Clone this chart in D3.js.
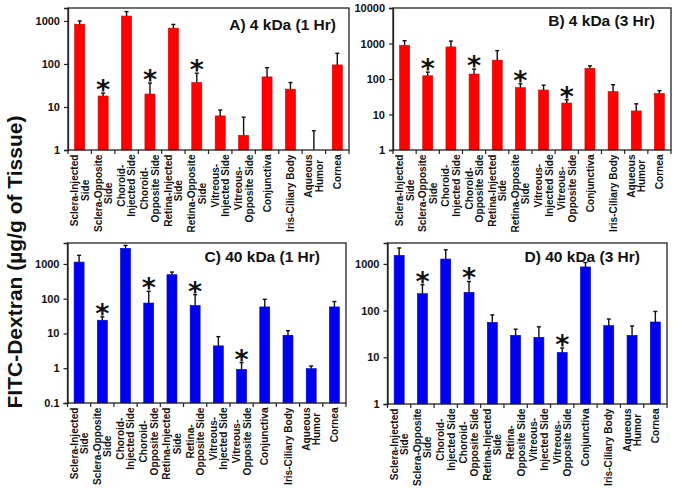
<!DOCTYPE html>
<html><head><meta charset="utf-8">
<script src="https://cdn.jsdelivr.net/npm/d3@7"></script>
<style>
body{margin:0;background:#fff;}
text{font-family:"Liberation Sans",Arial,sans-serif;font-weight:bold;}
</style></head>
<body><svg id="c" width="675" height="489"></svg>
<script>
const categoriesAB = ["Sclera-Injected\nSide","Sclera-Opposite\nSide","Choroid-\nInjected Side","Choroid-\nOpposite Side","Retina-Injected\nSide","Retina-Opposite\nSide","Vitreous-\nInjected Side","Vitreous-\nOpposite Side","Conjunctiva","Iris-Ciliary Body","Aqueous\nHumor","Cornea"];
const categoriesCD = ["Sclera-Injected\nSide","Sclera-Opposite\nSide","Choroid-\nInjected Side","Choroid-\nOpposite Side","Retina-Injected\nSide","Retina-\nOpposite Side","Vitreous-\nInjected Side","Vitreous-\nOpposite Side","Conjunctiva","Iris-Ciliary Body","Aqueous\nHumor","Cornea"];

const valuesA = [840, 18, 1300, 20, 680, 37, 6.2, 2.2, 50, 26, 0.9, 95];
const errorsA = [160, 3, 350, 16, 150, 24, 2.3, 3.6, 32, 11, 1.9, 82];
const starsA = [1, 3, 5];

const valuesB = [890, 123, 800, 138, 340, 57, 49, 21, 200, 44, 12.6, 39];
const errorsB = [310, 33, 370, 52, 290, 16, 18, 5, 35, 25, 7.4, 8];
const starsB = [1, 3, 5, 7];

const valuesC = [1130, 24, 2800, 75, 490, 64, 4.4, 0.93, 58, 8.9, 0.97, 58];
const errorsC = [640, 6, 600, 88, 95, 67, 3.7, 0.52, 38, 3.1, 0.19, 25];
const starsC = [1, 3, 5, 7];

const valuesD = [1520, 230, 1270, 245, 56, 29.5, 26.7, 12.7, 860, 47.6, 29.5, 57];
const errorsD = [670, 127, 730, 175, 25, 10.5, 18.3, 3.1, 210, 18.4, 17.5, 39];
const starsD = [1, 3, 7];

const ticksA = [1, 10, 100, 1000];
const ticksB = [1, 10, 100, 1000, 10000];
const ticksC = [0.1, 1, 10, 100, 1000];
const ticksD = [1, 10, 100, 1000];

const titles = ["A) 4 kDa (1 Hr)", "B) 4 kDa (3 Hr)", "C) 40 kDa (1 Hr)", "D) 40 kDa (3 Hr)"];
const yLabel = "FITC-Dextran (µg/g of Tissue)";

const panels = [
  {cats: categoriesAB, vals: valuesA, errs: errorsA, stars: starsA, ticks: ticksA, title: titles[0], domain:[1,2000], color:"#ff0000",
   x0:68, x1:349, y0:8, y1:150, tx:336, ty:30},
  {cats: categoriesAB, vals: valuesB, errs: errorsB, stars: starsB, ticks: ticksB, title: titles[1], domain:[1,10000], color:"#ff0000",
   x0:393, x1:671, y0:8, y1:150, tx:655, ty:26},
  {cats: categoriesCD, vals: valuesC, errs: errorsC, stars: starsC, ticks: ticksC, title: titles[2], domain:[0.1,4000], color:"#0000f0",
   x0:67.5, x1:346, y0:243, y1:403, tx:320, ty:262},
  {cats: categoriesCD, vals: valuesD, errs: errorsD, stars: starsD, ticks: ticksD, title: titles[3], domain:[1,2800], color:"#0000f0",
   x0:387.5, x1:667, y0:243, y1:404, tx:640, ty:262}
];

const svg = d3.select("#c");

panels.forEach(p => {
  const g = svg.append("g");
  const x = d3.scaleBand().domain(d3.range(p.cats.length)).range([p.x0, p.x1]).paddingInner(0.57).paddingOuter(0.285);
  const y = d3.scaleLog().domain(p.domain).range([p.y1, p.y0]).clamp(true);

  g.selectAll("rect.bar").data(p.vals).join("rect")
    .attr("x", (d,i) => x(i)).attr("width", x.bandwidth())
    .attr("y", d => y(d)).attr("height", d => p.y1 - y(d))
    .attr("fill", p.color).attr("stroke", d3.color(p.color).darker(0.6)).attr("stroke-width", 0.6);

  const eg = g.selectAll("g.err").data(p.vals).join("g");
  eg.append("line")
    .attr("x1", (d,i) => x(i) + x.bandwidth()/2).attr("x2", (d,i) => x(i) + x.bandwidth()/2)
    .attr("y1", d => y(d)).attr("y2", (d,i) => y(d + p.errs[i]))
    .attr("stroke", "#111").attr("stroke-width", 1.4);
  eg.append("line")
    .attr("x1", (d,i) => x(i) + x.bandwidth()/2 - 2).attr("x2", (d,i) => x(i) + x.bandwidth()/2 + 2)
    .attr("y1", (d,i) => y(d + p.errs[i])).attr("y2", (d,i) => y(d + p.errs[i]))
    .attr("stroke", "#111").attr("stroke-width", 1.4);

  g.selectAll("text.star").data(p.stars).join("text")
    .attr("x", i => x(i) + x.bandwidth()/2)
    .attr("y", i => y(p.vals[i] + p.errs[i]) + 6)
    .attr("text-anchor", "middle")
    .style("font-family", "'DejaVu Sans',sans-serif")
    .attr("font-size", 27).attr("fill", "#111").text("*");

  g.append("rect").attr("x", p.x0).attr("y", p.y0).attr("width", p.x1 - p.x0).attr("height", p.y1 - p.y0)
    .attr("fill", "none").attr("stroke", "#222").attr("stroke-width", 1.3);

  const ya = g.append("g").attr("transform", `translate(${p.x0},0)`)
    .call(d3.axisLeft(y).tickValues(p.ticks).tickFormat(d3.format("")).tickSize(4).tickPadding(4));
  ya.select(".domain").attr("stroke", "#222").attr("stroke-width", 1.3);
  ya.selectAll(".tick line").attr("stroke", "#222").attr("stroke-width", 1.2);
  ya.selectAll(".tick text").attr("font-size", 11).attr("fill", "#111")
    .style("font-family", "'Liberation Sans',Arial,sans-serif").style("font-weight", "bold");

  const xa = g.append("g");
  xa.selectAll("line").data(d3.range(p.cats.length + 1)).join("line")
    .attr("x1", i => p.x0 + i * x.step()).attr("x2", i => p.x0 + i * x.step())
    .attr("y1", p.y1).attr("y2", p.y1 + 4).attr("stroke", "#222").attr("stroke-width", 1.2);

  p.cats.forEach((c, i) => {
    const lines = c.split("\n");
    const cx = x(i) + x.bandwidth()/2;
    const lh = 10.5;
    const t = g.append("text")
      .attr("transform", `translate(${cx},${p.y1 + 4.5}) rotate(-90)`)
      .attr("font-size", 10.1).attr("fill", "#111");
    const tspans = lines.map((l, k) => t.append("tspan")
      .attr("x", 0).attr("y", (k - (lines.length - 1)/2) * lh + 3.7)
      .attr("text-anchor", "middle").text(l));
    const maxW = d3.max(tspans, s => s.node().getComputedTextLength());
    tspans.forEach(s => s.attr("x", -maxW/2));
  });

  g.append("text").attr("x", p.tx).attr("y", p.ty).attr("text-anchor", "end")
    .attr("font-size", 15.5).attr("fill", "#111").text(p.title);
});

svg.append("text").attr("transform", "translate(22,262) rotate(-90)")
  .attr("text-anchor", "middle").attr("font-size", 21).attr("fill", "#111").text(yLabel);
</script></body></html>
